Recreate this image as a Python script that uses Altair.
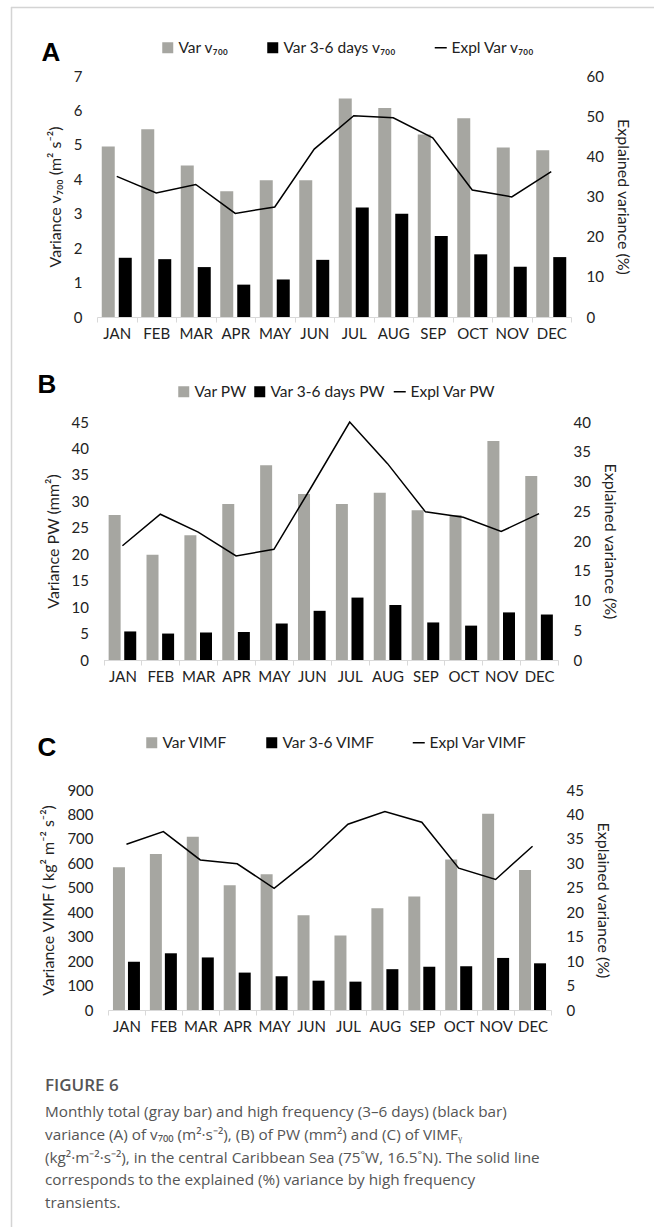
import altair as alt
import pandas as pd

W, H = 654, 1227

months = ["JAN", "FEB", "MAR", "APR", "MAY", "JUN", "JUL", "AUG", "SEP", "OCT", "NOV", "DEC"]

# Panel A: v700
a_total = [4.95, 5.45, 4.40, 3.65, 3.97, 3.97, 6.35, 6.07, 5.30, 5.77, 4.92, 4.84]
a_hf = [1.72, 1.68, 1.45, 0.94, 1.09, 1.66, 3.18, 3.00, 2.35, 1.82, 1.46, 1.74]
a_expl = [35.0, 30.9, 33.0, 25.8, 27.4, 41.8, 50.1, 49.6, 44.6, 31.6, 29.9, 36.2]
# Panel B: PW
b_total = [27.4, 19.9, 23.6, 29.5, 36.8, 31.4, 29.5, 31.6, 28.3, 27.4, 41.4, 34.8]
b_hf = [5.4, 5.0, 5.2, 5.3, 6.9, 9.3, 11.8, 10.4, 7.1, 6.5, 9.0, 8.6]
b_expl = [19.2, 24.5, 21.5, 17.5, 18.6, 29.2, 40.0, 33.0, 24.9, 24.0, 21.6, 24.6]
# Panel C: VIMF
c_total = [584, 638, 709, 510, 555, 388, 305, 416, 464, 616, 803, 573]
c_hf = [197, 232, 215, 153, 138, 120, 116, 167, 177, 179, 213, 191]
c_expl = [33.9, 36.5, 30.7, 29.9, 24.9, 30.9, 38.0, 40.6, 38.4, 29.0, 26.7, 33.5]

legend_a = ["Var v₇₀₀", "Var 3-6 days v₇₀₀", "Expl Var v₇₀₀"]
legend_b = ["Var PW", "Var 3-6 days PW", "Expl Var PW"]
legend_c = ["Var VIMF", "Var 3-6 VIMF", "Expl Var VIMF"]

a_left_ticks = [0, 1, 2, 3, 4, 5, 6, 7]
a_right_ticks = [0, 10, 20, 30, 40, 50, 60]
b_left_ticks = [0, 5, 10, 15, 20, 25, 30, 35, 40, 45]
b_right_ticks = [0, 5, 10, 15, 20, 25, 30, 35, 40]
c_left_ticks = [0, 100, 200, 300, 400, 500, 600, 700, 800, 900]
c_right_ticks = [0, 5, 10, 15, 20, 25, 30, 35, 40, 45]

left_titles = ["Variance v₇₀₀ (m² s⁻²)", "Variance PW (mm²)", "Variance VIMF ( kg² m⁻² s⁻²)"]
right_title = "Explained variance (%)"
letters = ["A", "B", "C"]

caption_head = "FIGURE 6"
caption_lines = [
    "Monthly total (gray bar) and high frequency (3–6 days) (black bar)",
    "variance (A) of v₇₀₀ (m²·s⁻²), (B) of PW (mm²) and (C) of VIMFᵧ",
    "(kg²·m⁻²·s⁻²), in the central Caribbean Sea (75˚W, 16.5˚N). The solid line",
    "corresponds to the explained (%) variance by high frequency",
    "transients.",
]

FONT = "Lato, 'Noto Sans', sans-serif"
GRAY = "#a6a6a1"
LBL = "#222222"
AXC = "#d9d9d9"


def legend(x, y, shape, size, sw=0):
    return alt.Legend(orient="none", legendX=x, legendY=y, title=None, symbolType=shape,
                      symbolSize=size, symbolStrokeWidth=sw, labelFont=FONT, labelFontSize=15.5,
                      labelColor=LBL, labelOffset=3, padding=0)


def panel(total, hf, expl, names, lticks, rticks, ltitle, g):
    df = pd.DataFrame({"month": months, "total": total, "hf": hf, "expl": expl,
                       "s0": names[0], "s1": names[1], "s2": names[2]})
    base = alt.Chart(df)

    def xs():
        return alt.Scale(domain=months, range=[g["x0"], g["x1"]], paddingInner=0, paddingOuter=0)

    def ls():
        return alt.Scale(domain=[lticks[0], lticks[-1]], range=[g["yb"], g["yt"]], nice=False)

    def rs():
        return alt.Scale(domain=[rticks[0], rticks[-1]], range=[g["yb"], g["yt"]], nice=False)

    x_axis = alt.Axis(orient="bottom", offset=g["yb"] - H, tickBand="extent", labelAngle=0,
                      title=None, domainColor=AXC, tickColor=AXC, tickSize=5, labelPadding=4,
                      grid=False)
    left_axis = alt.Axis(orient="left", offset=-g["x0"], values=lticks, domain=False, ticks=False,
                         grid=False, labelPadding=15, title=ltitle, titlePadding=10)
    right_axis = alt.Axis(orient="right", offset=g["x1"] - W, values=rticks, domain=False,
                          ticks=False, grid=False, labelPadding=15, title=right_title,
                          titlePadding=11)

    gray = base.mark_bar(width=g["bw"], xOffset=-g["off"]).encode(
        x=alt.X("month:N", scale=xs(), axis=x_axis, sort=months),
        y=alt.Y("total:Q", scale=ls(), axis=left_axis),
        color=alt.Color("s0:N", scale=alt.Scale(domain=[names[0]], range=[GRAY]),
                        legend=legend(g["l1"], g["ly"], "square", 121)),
    )
    black = base.mark_bar(width=g["bw"], xOffset=g["off"]).encode(
        x=alt.X("month:N", scale=xs(), axis=None, sort=months),
        y=alt.Y("hf:Q", scale=ls(), axis=None),
        color=alt.Color("s1:N", scale=alt.Scale(domain=[names[1]], range=["#000000"]),
                        legend=legend(g["l2"], g["ly"], "square", 121)),
    )
    line = base.mark_line(strokeWidth=1.5).encode(
        x=alt.X("month:N", scale=xs(), axis=None, sort=months),
        y=alt.Y("expl:Q", scale=rs(), axis=right_axis),
        color=alt.Color("s2:N", scale=alt.Scale(domain=[names[2]], range=["#000000"]),
                        legend=legend(g["l3"], g["ly"], "stroke", 144, 1.5)),
    )
    return [gray, black, line]


geo_a = dict(x0=97, x1=571, yt=76, yb=317, bw=13, off=8.5, l1=160, l2=265, l3=433, ly=40)
geo_b = dict(x0=103.5, x1=558, yt=422, yb=660, bw=12, off=7.8, l1=176, l2=252, l3=392, ly=384)
geo_c = dict(x0=108, x1=551, yt=790, yb=1010, bw=12, off=7.5, l1=144, l2=264, l3=411, ly=735)

layers = []
layers += panel(a_total, a_hf, a_expl, legend_a, a_left_ticks, a_right_ticks, left_titles[0], geo_a)
layers += panel(b_total, b_hf, b_expl, legend_b, b_left_ticks, b_right_ticks, left_titles[1], geo_b)
layers += panel(c_total, c_hf, c_expl, legend_c, c_left_ticks, c_right_ticks, left_titles[2], geo_c)

dummy = pd.DataFrame({"k": [0]})
letter_pos = [(51, 53), (47, 385), (47, 748)]
for letter, (lx, ly) in zip(letters, letter_pos):
    layers.append(
        alt.Chart(dummy).mark_text(font="Liberation Sans", fontSize=26, fontWeight="bold",
                                   color="#000000", align="center", baseline="middle").encode(
            x=alt.value(lx), y=alt.value(ly), text=alt.value(letter))
    )

layers.append(
    alt.Chart(dummy).mark_text(font="'Open Sans'", fontSize=17, fontWeight=600, color="#555555",
                               align="left", baseline="middle").encode(
        x=alt.value(45), y=alt.value(1086), text=alt.value(caption_head))
)
layers.append(
    alt.Chart(dummy).mark_text(font="'Open Sans'", fontSize=15.3, color="#555555", align="left",
                               baseline="middle", lineHeight=22.8).encode(
        x=alt.value(45), y=alt.value(1112), text=alt.value(caption_lines))
)

# frame lines
layers.append(
    alt.Chart(dummy).mark_rule(color="#d4d4d4", strokeWidth=1.5).encode(
        x=alt.value(11), x2=alt.value(W), y=alt.value(7.5), y2=alt.value(7.5))
)
layers.append(
    alt.Chart(dummy).mark_rule(color="#d4d4d4", strokeWidth=1.5).encode(
        x=alt.value(11.5), x2=alt.value(11.5), y=alt.value(7), y2=alt.value(H))
)

chart = alt.layer(*layers).resolve_scale(
    x="independent", y="independent", color="independent"
).resolve_axis(
    x="independent", y="independent"
).resolve_legend(
    color="independent"
).properties(
    width=W, height=H, autosize=alt.AutoSizeParams(type="none"), padding=0, background="white"
).configure_view(
    stroke=None
).configure_axis(
    labelFont=FONT, labelFontSize=15, labelColor=LBL, titleFont=FONT, titleFontSize=16,
    titleColor=LBL, titleFontWeight="normal"
)

chart.save("out.html", embed_options={"renderer": "svg", "actions": False})
